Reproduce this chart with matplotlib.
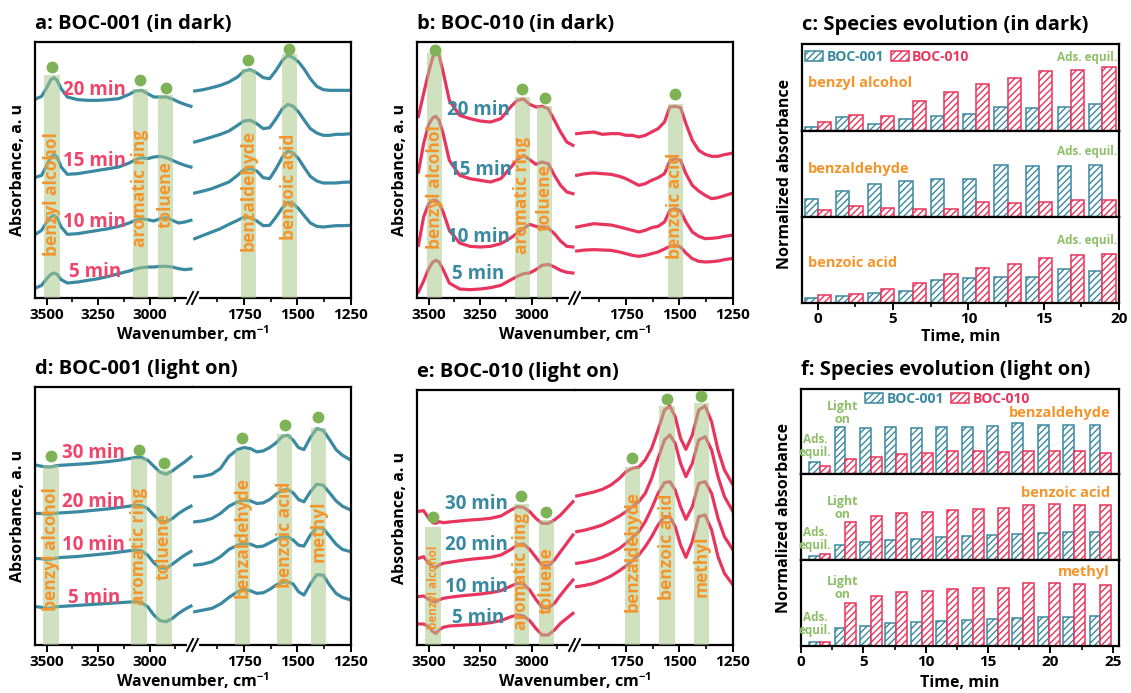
import matplotlib
matplotlib.use('Agg')
import matplotlib.pyplot as plt
from matplotlib.lines import Line2D
from matplotlib.patches import Patch

plt.rcParams['font.family'] = ['Open Sans', 'DejaVu Sans']
plt.rcParams['font.weight'] = 'bold'
plt.rcParams['mathtext.fontset'] = 'custom'
plt.rcParams['mathtext.rm'] = 'Open Sans:bold'
plt.rcParams['mathtext.bf'] = 'Open Sans:bold'
plt.rcParams['mathtext.default'] = 'bf'
plt.rcParams['hatch.linewidth'] = 1.0

# ---------------- spectra (a.u.) ----------------
wn_left = [3550, 3525, 3500, 3480, 3465, 3450, 3430, 3400, 3350, 3300, 3250, 3200,
           3150, 3100, 3070, 3040, 3010, 2980, 2950, 2920, 2890, 2860, 2830, 2800]
wn_right = [1980, 1940, 1900, 1860, 1820, 1780, 1750, 1720, 1690, 1660, 1630, 1600,
            1570, 1545, 1520, 1495, 1470, 1440, 1410, 1380, 1350, 1320, 1290, 1250]

# a: BOC-001 in dark
a_l_20 = [5.98, 6.05, 6.31, 6.55, 6.61, 6.53, 6.28, 6.03, 5.95, 5.93, 5.93, 5.95,
          5.98, 6.11, 6.21, 6.23, 6.13, 6.03, 6.03, 6.03, 5.97, 5.88, 5.81, 5.75]
a_l_15 = [3.63, 3.68, 3.98, 4.23, 4.31, 4.23, 3.93, 3.71, 3.73, 3.78, 3.83, 3.88,
          3.93, 4.05, 4.15, 4.21, 4.18, 4.23, 4.25, 4.21, 4.13, 4.05, 3.98, 3.93]
a_l_10 = [1.93, 2.03, 2.28, 2.43, 2.48, 2.41, 2.13, 1.91, 1.93, 1.98, 2.03, 2.08,
          2.15, 2.25, 2.33, 2.38, 2.35, 2.31, 2.38, 2.41, 2.33, 2.25, 2.28, 2.33]
a_l_5 = [0.31, 0.38, 0.58, 0.71, 0.75, 0.71, 0.55, 0.45, 0.48, 0.53, 0.58, 0.65,
         0.73, 0.81, 0.87, 0.91, 0.93, 0.93, 0.95, 0.95, 0.93, 0.88, 0.85, 0.87]
a_r_20 = [6.21, 6.25, 6.31, 6.38, 6.48, 6.63, 6.81, 6.85, 6.75, 6.61, 6.58, 6.83,
          7.13, 7.28, 7.21, 7.08, 6.88, 6.58, 6.35, 6.25, 6.23, 6.23, 6.23, 6.23]
a_r_15 = [4.68, 4.75, 4.83, 4.91, 5.01, 5.18, 5.31, 5.33, 5.23, 5.08, 5.11, 5.38,
          5.68, 5.81, 5.75, 5.58, 5.35, 5.08, 4.95, 4.88, 4.88, 4.91, 4.91, 4.93]
a_r_10 = [3.15, 3.21, 3.28, 3.38, 3.48, 3.68, 3.85, 3.88, 3.81, 3.61, 3.58, 3.88,
          4.23, 4.41, 4.35, 4.18, 3.93, 3.65, 3.51, 3.45, 3.45, 3.45, 3.47, 3.48]
a_r_5 = [1.78, 1.88, 1.98, 2.08, 2.21, 2.33, 2.43, 2.41, 2.31, 2.17, 2.18, 2.43,
         2.71, 2.87, 2.83, 2.68, 2.48, 2.25, 2.15, 2.13, 2.15, 2.17, 2.17, 2.18]

# b: BOC-010 in dark
b_l_20 = [5.45, 6.13, 6.78, 7.23, 7.38, 7.28, 6.78, 5.93, 5.48, 5.38, 5.31, 5.28,
          5.38, 5.75, 5.93, 5.97, 5.81, 5.73, 5.75, 5.68, 5.33, 4.98, 4.68, 4.58]
b_l_15 = [3.78, 4.63, 5.21, 5.41, 5.45, 5.33, 4.93, 4.13, 3.68, 3.58, 3.53, 3.48,
          3.58, 3.93, 4.15, 4.28, 4.15, 4.01, 4.08, 4.03, 3.68, 3.38, 3.18, 3.13]
b_l_10 = [1.58, 2.43, 2.83, 2.93, 2.93, 2.85, 2.58, 2.03, 1.65, 1.55, 1.53, 1.55,
          1.63, 1.81, 1.95, 2.08, 2.21, 2.15, 2.13, 2.10, 1.93, 1.71, 1.55, 1.53]
b_l_5 = [0.18, 0.51, 0.88, 1.08, 1.13, 1.08, 0.85, 0.45, 0.27, 0.25, 0.27, 0.31,
         0.38, 0.55, 0.65, 0.73, 0.75, 0.85, 0.98, 1.01, 0.93, 0.83, 0.77, 0.75]
b_r_20 = [4.93, 4.96, 4.98, 4.91, 4.93, 4.93, 4.88, 4.88, 4.83, 4.88, 4.98, 5.08,
          5.28, 5.73, 5.75, 5.71, 5.23, 4.73, 4.43, 4.31, 4.25, 4.25, 4.30, 4.35]
b_r_15 = [3.68, 3.73, 3.75, 3.73, 3.71, 3.65, 3.58, 3.48, 3.38, 3.43, 3.53, 3.61,
          3.73, 4.11, 4.18, 4.13, 3.73, 3.38, 3.21, 3.08, 2.98, 3.01, 3.07, 3.15]
b_r_10 = [2.13, 2.18, 2.23, 2.21, 2.19, 2.13, 2.08, 2.03, 1.98, 2.03, 2.11, 2.15,
          2.28, 2.63, 2.68, 2.61, 2.28, 1.98, 1.85, 1.78, 1.79, 1.81, 1.85, 1.89]
b_r_5 = [1.41, 1.44, 1.45, 1.44, 1.43, 1.38, 1.33, 1.28, 1.25, 1.28, 1.33, 1.38,
         1.47, 1.55, 1.58, 1.53, 1.35, 1.18, 1.10, 1.08, 1.09, 1.11, 1.15, 1.19]

# d: BOC-001 light on
d_l_30 = [5.40, 5.37, 5.35, 5.35, 5.37, 5.39, 5.40, 5.41, 5.43, 5.45, 5.48, 5.51,
          5.55, 5.60, 5.63, 5.63, 5.55, 5.37, 5.19, 5.13, 5.23, 5.37, 5.50, 5.65]
d_l_20 = [3.95, 3.95, 3.93, 3.93, 3.95, 3.96, 3.97, 3.98, 4.00, 4.03, 4.06, 4.09,
          4.13, 4.17, 4.20, 4.19, 4.10, 3.90, 3.73, 3.70, 3.80, 3.95, 4.07, 4.17]
d_l_10 = [2.60, 2.59, 2.57, 2.58, 2.60, 2.61, 2.63, 2.64, 2.66, 2.69, 2.72, 2.75,
          2.79, 2.83, 2.85, 2.83, 2.70, 2.47, 2.31, 2.30, 2.43, 2.57, 2.70, 2.81]
d_l_5 = [1.15, 1.13, 1.10, 1.11, 1.13, 1.15, 1.16, 1.17, 1.19, 1.21, 1.23, 1.25,
         1.27, 1.29, 1.30, 1.27, 1.15, 0.90, 0.73, 0.70, 0.80, 0.95, 1.07, 1.17]
d_r_30 = [5.05, 5.07, 5.13, 5.30, 5.67, 5.87, 5.93, 5.90, 5.80, 5.83, 5.93, 6.07,
          6.27, 6.30, 6.15, 5.93, 5.87, 6.23, 6.50, 6.45, 6.17, 5.87, 5.70, 5.55]
d_r_20 = [3.70, 3.73, 3.80, 3.95, 4.17, 4.30, 4.35, 4.33, 4.25, 4.27, 4.37, 4.53,
          4.65, 4.67, 4.57, 4.37, 4.30, 4.60, 4.83, 4.80, 4.57, 4.33, 4.17, 4.05]
d_r_10 = [2.40, 2.43, 2.50, 2.65, 2.87, 3.00, 3.05, 3.03, 2.95, 2.97, 3.07, 3.17,
          3.25, 3.25, 3.15, 3.00, 2.97, 3.30, 3.53, 3.50, 3.27, 3.03, 2.87, 2.80]
d_r_5 = [1.00, 1.05, 1.10, 1.23, 1.43, 1.60, 1.67, 1.63, 1.55, 1.57, 1.67, 1.80,
         1.89, 1.90, 1.83, 1.60, 1.50, 1.83, 2.11, 2.10, 1.80, 1.55, 1.43, 1.35]

# e: BOC-010 light on
e_l_30 = [4.01, 4.03, 3.80, 3.67, 3.65, 3.70, 3.67, 3.69, 3.72, 3.75, 3.77, 3.80,
          3.87, 4.05, 4.15, 4.13, 4.00, 3.80, 3.65, 3.65, 3.75, 3.90, 4.10, 4.30]
e_l_20 = [2.60, 2.65, 2.45, 2.35, 2.33, 2.40, 2.45, 2.48, 2.53, 2.57, 2.60, 2.63,
          2.70, 2.87, 3.00, 3.03, 2.87, 2.63, 2.40, 2.37, 2.55, 2.80, 3.05, 3.30]
e_l_10 = [1.45, 1.47, 1.37, 1.30, 1.30, 1.35, 1.40, 1.43, 1.47, 1.50, 1.53, 1.57,
          1.63, 1.77, 1.85, 1.83, 1.65, 1.37, 1.13, 1.10, 1.25, 1.50, 1.73, 1.95]
e_l_5 = [0.63, 0.63, 0.55, 0.40, 0.35, 0.45, 0.53, 0.57, 0.59, 0.61, 0.63, 0.67,
         0.73, 0.85, 0.90, 0.87, 0.73, 0.50, 0.30, 0.30, 0.45, 0.65, 0.80, 0.95]
e_r_30 = [4.47, 4.53, 4.59, 4.67, 4.80, 5.00, 5.20, 5.30, 5.33, 5.55, 5.90, 6.45,
          7.05, 7.17, 6.85, 6.20, 5.87, 6.30, 7.05, 7.17, 6.70, 5.85, 5.25, 4.80]
e_r_20 = [3.40, 3.45, 3.52, 3.60, 3.73, 3.87, 4.00, 4.15, 4.30, 4.55, 5.00, 5.60,
          6.15, 6.30, 6.05, 5.45, 5.05, 5.45, 6.15, 6.25, 5.85, 5.05, 4.45, 4.00]
e_r_10 = [2.45, 2.49, 2.55, 2.63, 2.75, 2.90, 3.05, 3.23, 3.40, 3.70, 4.10, 4.55,
          4.87, 4.90, 4.65, 4.15, 3.77, 4.15, 4.85, 4.90, 4.55, 3.80, 3.25, 2.85]
e_r_5 = [1.75, 1.79, 1.85, 1.95, 2.07, 2.23, 2.37, 2.53, 2.70, 2.95, 3.25, 3.60,
         3.85, 3.85, 3.55, 3.00, 2.63, 3.10, 3.85, 3.90, 3.45, 2.65, 2.15, 1.80]

# ---------------- species evolution (normalized) ----------------
t_dark = [0, 2.1, 4.2, 6.3, 8.4, 10.5, 12.6, 14.7, 16.8, 18.9]
c_alc_001 = [0.047, 0.156, 0.082, 0.136, 0.171, 0.195, 0.272, 0.261, 0.28, 0.311]
c_alc_010 = [0.101, 0.183, 0.171, 0.346, 0.447, 0.541, 0.607, 0.685, 0.704, 0.735]
c_ald_001 = [0.212, 0.302, 0.38, 0.42, 0.447, 0.447, 0.604, 0.596, 0.592, 0.608]
c_ald_010 = [0.078, 0.125, 0.11, 0.098, 0.098, 0.173, 0.161, 0.169, 0.2, 0.192]
c_acid_001 = [0.063, 0.078, 0.118, 0.137, 0.271, 0.29, 0.298, 0.302, 0.392, 0.369]
c_acid_010 = [0.094, 0.11, 0.161, 0.235, 0.333, 0.404, 0.459, 0.525, 0.557, 0.569]

t_light = [1.5, 3.55, 5.6, 7.6, 9.7, 11.7, 13.8, 15.8, 17.8, 19.9, 21.9, 24.0]
f_ald_001 = [0.146, 0.551, 0.547, 0.555, 0.547, 0.555, 0.555, 0.559, 0.598, 0.579, 0.575, 0.575]
f_ald_010 = [0.094, 0.173, 0.2, 0.232, 0.252, 0.276, 0.276, 0.264, 0.276, 0.276, 0.268, 0.252]
f_acid_001 = [0.043, 0.176, 0.207, 0.234, 0.25, 0.266, 0.281, 0.289, 0.301, 0.313, 0.32, 0.328]
f_acid_010 = [0.066, 0.445, 0.508, 0.547, 0.563, 0.586, 0.598, 0.609, 0.645, 0.648, 0.637, 0.641]
f_me_001 = [0.051, 0.208, 0.235, 0.263, 0.275, 0.294, 0.306, 0.314, 0.325, 0.333, 0.337, 0.345]
f_me_010 = [0.051, 0.502, 0.58, 0.624, 0.639, 0.659, 0.671, 0.678, 0.733, 0.737, 0.725, 0.714]

TEAL = '#3a89a1'
PINK = '#e8355e'
ORANGE = '#f4952b'
GREEN_TXT = '#8dbf68'
BAND = '#a9c98b'
DOT = '#7db356'

W, H = 1131, 693
fig = plt.figure(figsize=(W / 100, H / 100), dpi=100)


def add_ax(x0, y0, x1, y1):
    # pixel box -> figure fraction
    return fig.add_axes([x0 / W, 1 - y1 / H, (x1 - x0) / W, (y1 - y0) / H])


def style(ax):
    for s in ax.spines.values():
        s.set_linewidth(1.6)
    ax.tick_params(axis='x', direction='out', length=5, width=1.4, labelsize=11, pad=2.5)
    ax.tick_params(axis='x', which='minor', direction='out', length=3, width=1.2)
    ax.set_yticks([])


def spectra(box, ylim, lefts, rights, color, tlabels, tcolor, bands, title):
    x0, y0, x1, y1 = box
    mid = (x0 + x1) / 2
    axl = add_ax(x0, y0, mid, y1)
    axr = add_ax(mid, y0, x1, y1)
    for yy in lefts:
        axl.plot(wn_left, yy, color=color, lw=2.3, zorder=2)
    for yy in rights:
        axr.plot(wn_right, yy, color=color, lw=2.3, zorder=2)
    for name, hi, lo, top, dot, ty, fs in bands:
        ax = axl if hi > 2500 else axr
        xc = (hi + lo) / 2
        ax.fill_between([hi, lo], 0, top, color=BAND, alpha=0.55, lw=0, zorder=3)
        ax.plot([xc], [dot], 'o', ms=7.5, color=DOT, zorder=4, clip_on=False)
        ax.text(xc, ty, name, rotation=90, ha='center', va='center', color=ORANGE,
                fontsize=fs, zorder=5)
    for txt, x, y in tlabels:
        axl.text(x, y, txt, color=tcolor, fontsize=13.5, ha='left', va='center', zorder=5)
    axl.set_xlim(3557, 2790)
    axr.set_xlim(1988, 1250)
    for ax in (axl, axr):
        ax.set_ylim(*ylim)
        style(ax)
    axl.spines['right'].set_visible(False)
    axr.spines['left'].set_visible(False)
    axl.set_xticks([3500, 3250, 3000])
    axl.set_xticks([3375, 3125, 2875], minor=True)
    axr.set_xticks([1750, 1500, 1250])
    axr.set_xticks([1875, 1625, 1375], minor=True)
    # axis break marks
    yb = 1 - y1 / H
    fig.add_artist(Line2D([(mid - 4) / W, (mid + 4) / W], [yb, yb], color='white', lw=3))
    for dx in (-3, 2):
        fig.add_artist(Line2D([(mid + dx - 3) / W, (mid + dx + 3) / W],
                              [yb - 6 / H, yb + 6 / H], color='black', lw=1.4))
    fig.text(x0 / W, 1 - (y0 - 18) / H, title, fontsize=14.5, ha='left', va='center')
    fig.text(18 / W + (x0 - 35) / W, 1 - (y0 + y1) / 2 / H, 'Absorbance, a. u',
             rotation=90, fontsize=11.5, ha='center', va='center')
    fig.text(mid / W, 1 - (y1 + 36) / H, 'Wavenumber, cm$^{-1}$', fontsize=11.5,
             ha='center', va='center')


def bars(box, cuts, xlim, times, width, rows, ticks, minor, title, xlab_y):
    x0, y0, x1, y1 = box
    tops = [y0] + cuts
    bots = cuts + [y1]
    axes = []
    for i, (v1, v2) in enumerate(rows):
        ax = add_ax(x0, tops[i], x1, bots[i])
        ax.bar([t - width / 2 for t in times], v1, width, facecolor='white',
               edgecolor=TEAL, hatch='/////', lw=1.1, zorder=2)
        ax.bar([t + width / 2 for t in times], v2, width, facecolor='white',
               edgecolor=PINK, hatch='/////', lw=1.1, zorder=2)
        ax.set_xlim(*xlim)
        ax.set_ylim(0, 1)
        style(ax)
        ax.set_xticks(ticks)
        ax.set_xticks(minor, minor=True)
        if i < len(rows) - 1:
            ax.tick_params(axis='x', which='both', bottom=False, labelbottom=False)
        else:
            ax.tick_params(axis='x', pad=1.5)
        axes.append(ax)
    fig.text(x0 / W, 1 - (y0 - 19) / H, title, fontsize=14.5, ha='left', va='center')
    fig.text((x0 - 17) / W, 1 - (y0 + y1) / 2 / H, 'Normalized absorbance',
             rotation=90, fontsize=11.5, ha='center', va='center')
    fig.text((x0 + x1) / 2 / W, 1 - xlab_y / H, 'Time, min', fontsize=11.5,
             ha='center', va='center')
    return axes


def legend(ax, loc, anchor):
    handles = [Patch(facecolor='white', edgecolor=TEAL, hatch='/////', lw=1.1),
               Patch(facecolor='white', edgecolor=PINK, hatch='/////', lw=1.1)]
    leg = ax.legend(handles, ['BOC-001', 'BOC-010'], ncol=2, frameon=False, loc=loc,
                    bbox_to_anchor=anchor, fontsize=10, handlelength=1.3,
                    handleheight=0.75, handletextpad=0.25, columnspacing=0.5,
                    borderpad=0.1, borderaxespad=0.1)
    for txt, c in zip(leg.get_texts(), [TEAL, PINK]):
        txt.set_color(c)


# ---------------- panels a, b, d, e ----------------
spectra((35, 42, 351, 298), (0, 7.68),
        [a_l_20, a_l_15, a_l_10, a_l_5], [a_r_20, a_r_15, a_r_10, a_r_5], TEAL,
        [('20 min', 3419, 6.23), ('15 min', 3419, 4.10), ('10 min', 3419, 2.28),
         ('5 min', 3392, 0.78)], '#f0446a',
        [('benzyl alcohol', 3511, 3435, 6.68, 6.93, 3.13, 12.5),
         ('aromatic ring', 3083, 3010, 6.28, 6.53, 3.28, 12.5),
         ('toluene', 2961, 2885, 6.08, 6.31, 3.11, 12.5),
         ('benzaldehyde', 1766, 1694, 6.88, 7.13, 3.23, 12.5),
         ('benzoic acid', 1574, 1504, 7.31, 7.46, 3.33, 12.5)],
        'a: BOC-001 (in dark)')

spectra((417, 42, 733, 298), (0, 7.68),
        [b_l_20, b_l_15, b_l_10, b_l_5], [b_r_20, b_r_15, b_r_10, b_r_5], PINK,
        [('20 min', 3411, 5.63), ('15 min', 3403, 3.83), ('10 min', 3411, 1.83),
         ('5 min', 3387, 0.73)], TEAL,
        [('benzyl alcohol', 3508, 3435, 7.35, 7.45, 3.33, 12.5),
         ('aromatic ring', 3083, 3007, 6.03, 6.28, 3.08, 12.5),
         ('toluene', 2974, 2901, 5.75, 6.01, 3.01, 12.5),
         ('benzoic acid', 1555, 1485, 5.81, 6.11, 2.78, 12.5)],
        'b: BOC-010 (in dark)')

spectra((35, 387, 351, 645), (0, 7.75),
        [d_l_30, d_l_20, d_l_10, d_l_5], [d_r_30, d_r_20, d_r_10, d_r_5], TEAL,
        [('30 min', 3427, 5.78), ('20 min', 3427, 4.30), ('10 min', 3427, 3.00),
         ('5 min', 3395, 1.40)], '#f0446a',
        [('benzyl alcohol', 3519, 3442, 5.40, 5.67, 2.87, 12.5),
         ('aromatic ring', 3091, 3015, 5.63, 5.87, 2.97, 12.5),
         ('toluene', 2969, 2893, 5.25, 5.47, 2.97, 12.5),
         ('benzaldehyde', 1792, 1722, 5.85, 6.22, 3.22, 12.5),
         ('benzoic acid', 1594, 1524, 6.33, 6.60, 3.32, 12.5),
         ('methyl', 1438, 1368, 6.53, 6.85, 3.42, 12.5)],
        'd: BOC-001 (light on)')

spectra((417, 390, 733, 645), (0, 7.65),
        [e_l_30, e_l_20, e_l_10, e_l_5], [e_r_30, e_r_20, e_r_10, e_r_5], PINK,
        [('30 min', 3419, 4.23), ('20 min', 3419, 3.00), ('10 min', 3419, 1.73),
         ('5 min', 3387, 0.80)], TEAL,
        [('benzyl alcohol', 3516, 3440, 3.55, 3.85, 1.73, 8.5),
         ('aromatic ring', 3087, 3015, 4.23, 4.48, 2.20, 12.5),
         ('toluene', 2966, 2893, 3.75, 4.00, 1.93, 12.5),
         ('benzaldehyde', 1756, 1683, 5.35, 5.60, 2.80, 12.5),
         ('benzoic acid', 1596, 1523, 7.17, 7.37, 2.95, 12.5),
         ('methyl', 1434, 1362, 7.25, 7.47, 2.37, 12.5)],
        'e: BOC-010 (light on)')

# ---------------- panel c ----------------
cax = bars((802, 44, 1119, 303), [131, 217], (-1.05, 20), t_dark, 0.88,
           [(c_alc_001, c_alc_010), (c_ald_001, c_ald_010), (c_acid_001, c_acid_010)],
           [0, 5, 10, 15, 20], [2.5, 7.5, 12.5, 17.5],
           'c: Species evolution (in dark)', 337)
legend(cax[0], 'center left', (0.0, 0.85))
for ax, name, ya, yn in zip(cax, ['benzyl alcohol', 'benzaldehyde', 'benzoic acid'],
                            [0.85, 0.76, 0.73], [0.55, 0.56, 0.47]):
    ax.text(0.994, ya, 'Ads. equil.', transform=ax.transAxes, color=GREEN_TXT,
            fontsize=8.5, ha='right', va='center')
    ax.text(0.02, yn, name, transform=ax.transAxes, color=ORANGE, fontsize=10.5,
            ha='left', va='center')

# ---------------- panel f ----------------
fax = bars((801, 389, 1119, 646), [474, 560], (0, 25.5), t_light, 0.86,
           [(f_ald_001, f_ald_010), (f_acid_001, f_acid_010), (f_me_001, f_me_010)],
           [0, 5, 10, 15, 20, 25], [2.5, 7.5, 12.5, 17.5, 22.5],
           'f: Species evolution (light on)', 683)
legend(fax[0], 'center', (0.46, 0.88))
for ax, name, yn, yl, ye in zip(fax, ['benzaldehyde', 'benzoic acid', 'methyl'],
                                [0.72, 0.78, 0.86], [0.72, 0.60, 0.67], [0.335, 0.24, 0.26]):
    ax.text(0.972, yn, name, transform=ax.transAxes, color=ORANGE, fontsize=10.5,
            ha='right', va='center')
    ax.text(0.132, yl, 'Light\non', transform=ax.transAxes, color=GREEN_TXT,
            fontsize=9, ha='center', va='center', linespacing=1.0)
    ax.text(0.044, ye, 'Ads.\nequil.', transform=ax.transAxes, color=GREEN_TXT,
            fontsize=8.5, ha='center', va='center', linespacing=1.0)

fig.savefig('out.png', dpi=100)
